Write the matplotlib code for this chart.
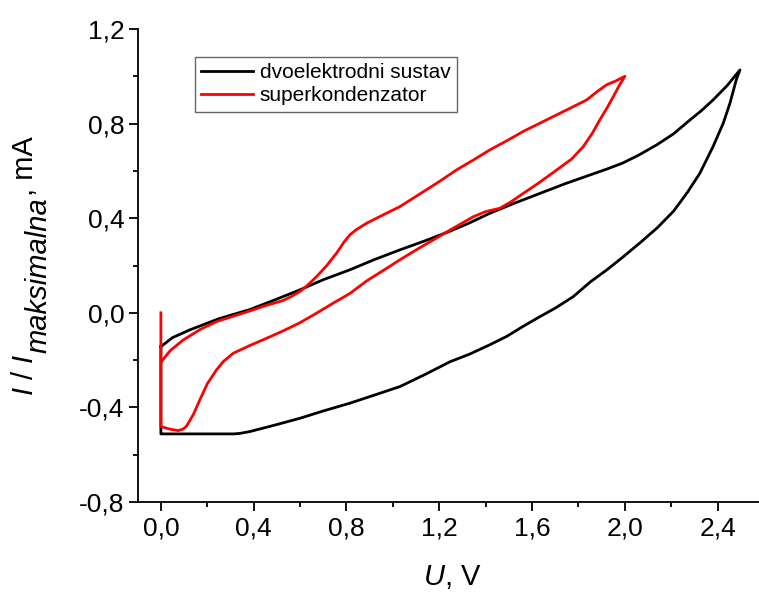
import matplotlib
matplotlib.use("Agg")
import matplotlib.pyplot as plt
from matplotlib.transforms import IdentityTransform

plt.rcParams['font.family'] = ['Liberation Sans', 'DejaVu Sans']
plt.rcParams['mathtext.fontset'] = 'custom'
plt.rcParams['mathtext.rm'] = 'Liberation Sans'
plt.rcParams['mathtext.it'] = 'Liberation Sans:italic'

# dvoelektrodni sustav (black loop)
black_u = [0.0, 0.05, 0.125, 0.25, 0.384, 0.5, 0.599, 0.7, 0.815, 0.92, 1.03, 1.14, 1.246,
           1.33, 1.418, 1.52, 1.634, 1.74, 1.85, 1.92, 1.99, 2.06, 2.137, 2.21, 2.28, 2.33,
           2.38, 2.44, 2.496,
           2.48, 2.453, 2.424, 2.38, 2.323, 2.27, 2.21, 2.14, 2.07, 1.993, 1.92, 1.85, 1.777,
           1.70, 1.634, 1.56, 1.49, 1.418, 1.33, 1.246, 1.14, 1.03, 0.92, 0.815, 0.7, 0.599,
           0.49, 0.384, 0.34, 0.312, 0.168, 0.003, 0.0, 0.0]
black_i = [-0.143, -0.105, -0.072, -0.025, 0.014, 0.058, 0.097, 0.14, 0.182, 0.225, 0.266,
           0.305, 0.345, 0.38, 0.421, 0.462, 0.505, 0.545, 0.583, 0.607, 0.633, 0.667, 0.71,
           0.757, 0.815, 0.855, 0.9, 0.96, 1.027,
           0.985, 0.887, 0.802, 0.703, 0.59, 0.51, 0.43, 0.36, 0.30, 0.237, 0.18, 0.13, 0.068,
           0.02, -0.016, -0.058, -0.1, -0.135, -0.175, -0.207, -0.26, -0.312, -0.348, -0.382,
           -0.415, -0.446, -0.475, -0.502, -0.51, -0.512, -0.512, -0.512, -0.512, -0.143]

# superkondenzator (red loop)
red_u = [0.0, 0.0, 0.003, 0.04, 0.075, 0.095, 0.11, 0.14, 0.168, 0.2, 0.24, 0.27, 0.312,
         0.384, 0.455, 0.53, 0.599, 0.67, 0.743, 0.815, 0.887, 0.96, 1.03, 1.10, 1.174,
         1.246, 1.30, 1.346, 1.40, 1.461, 1.51, 1.562, 1.63, 1.706, 1.77, 1.82, 1.86, 1.892,
         1.925, 1.95, 1.975, 2.0,
         1.96, 1.921, 1.88, 1.835, 1.77, 1.706, 1.63, 1.562, 1.49, 1.418, 1.35, 1.274, 1.2,
         1.12, 1.03, 0.96, 0.887, 0.84, 0.815, 0.79, 0.757, 0.715, 0.671, 0.63, 0.599, 0.56,
         0.527, 0.45, 0.384, 0.31, 0.24, 0.17, 0.096, 0.04, 0.003]
red_i = [0.0, -0.48, -0.482, -0.492, -0.498, -0.492, -0.48, -0.43, -0.368, -0.3, -0.241,
         -0.205, -0.171, -0.138, -0.108, -0.075, -0.042, -0.002, 0.041, 0.082, 0.135, 0.18,
         0.224, 0.266, 0.308, 0.35, 0.38, 0.406, 0.428, 0.442, 0.47, 0.505, 0.55, 0.604, 0.65,
         0.702, 0.76, 0.816, 0.87, 0.914, 0.96, 1.0,
         0.98, 0.964, 0.935, 0.9, 0.868, 0.837, 0.80, 0.767, 0.727, 0.689, 0.648, 0.604,
         0.555, 0.505, 0.449, 0.415, 0.379, 0.35, 0.33, 0.30, 0.252, 0.2, 0.153, 0.115, 0.09,
         0.068, 0.052, 0.03, 0.008, -0.015, -0.037, -0.07, -0.115, -0.16, -0.205]

series_labels = ['dvoelektrodni sustav', 'superkondenzator']
x_ticks = [0.0, 0.4, 0.8, 1.2, 1.6, 2.0, 2.4]
x_tick_labels = ['0,0', '0,4', '0,8', '1,2', '1,6', '2,0', '2,4']
y_ticks = [-0.8, -0.4, 0.0, 0.4, 0.8, 1.2]
y_tick_labels = ['-0,8', '-0,4', '0,0', '0,4', '0,8', '1,2']

W, H = 759, 592
fig = plt.figure(figsize=(W / 100, H / 100), dpi=100)
ax = fig.add_axes([0.1814, 0.152, 0.8186, 0.799])

ax.plot(black_u, black_i, color='black', lw=2.0, label=series_labels[0], solid_joinstyle='round')
ax.plot(red_u, red_i, color='#ff0000', lw=2.0, label=series_labels[1], solid_joinstyle='round')

ax.set_xlim(-0.1, 2.578)
ax.set_ylim(-0.8, 1.2)
ax.spines['top'].set_visible(False)
ax.spines['right'].set_visible(False)
for s in ('left', 'bottom'):
    ax.spines[s].set_linewidth(1.3)

ax.set_xticks(x_ticks, x_tick_labels)
ax.set_yticks(y_ticks, y_tick_labels)
ax.set_xticks([0.2, 0.6, 1.0, 1.4, 1.8, 2.2], minor=True)
ax.set_yticks([-0.6, -0.2, 0.2, 0.6, 1.0], minor=True)
ax.tick_params(which='major', direction='out', length=6.5, width=1.3, labelsize=19)
ax.tick_params(axis='x', which='major', pad=4)
ax.tick_params(axis='y', which='major', pad=3)
ax.tick_params(which='minor', direction='out', length=3.5, width=1.3)

# x label
fig.text(452, H - 585, r'$\mathit{U}$, V', fontsize=21, ha='center', va='baseline',
         transform=IdentityTransform())

# y label composed of pieces (subscript at full size, lowered)
renderer = fig.canvas.get_renderer()
pieces = [(r'$\mathit{I}$ / $\mathit{I}$', 0), ('maksimalna', 14), (', mA', 0)]
styles = ['normal', 'italic', 'normal']
texts = []
y = 0.0
for (txt, dx), st in zip(pieces, styles):
    t = fig.text(33 + dx, y, txt, fontsize=21, style=st, rotation=90,
                 rotation_mode='anchor', ha='left', va='baseline',
                 transform=IdentityTransform())
    bb = t.get_window_extent(renderer)
    texts.append(t)
    y = bb.y1 + 1
total = y - 1
start = (H - 266.5) - total / 2
for t in texts:
    x0, y0 = t.get_position()
    t.set_position((x0, y0 + start))

leg = ax.legend(loc='upper left', bbox_to_anchor=(0.0922, 0.9408), borderaxespad=0,
                fontsize=15, frameon=True, fancybox=False, handlelength=2.5,
                handletextpad=0.3, borderpad=0.3, labelspacing=0.2)
leg.get_frame().set_edgecolor('#404040')
leg.get_frame().set_linewidth(1.0)

fig.savefig('out.png', dpi=100)
